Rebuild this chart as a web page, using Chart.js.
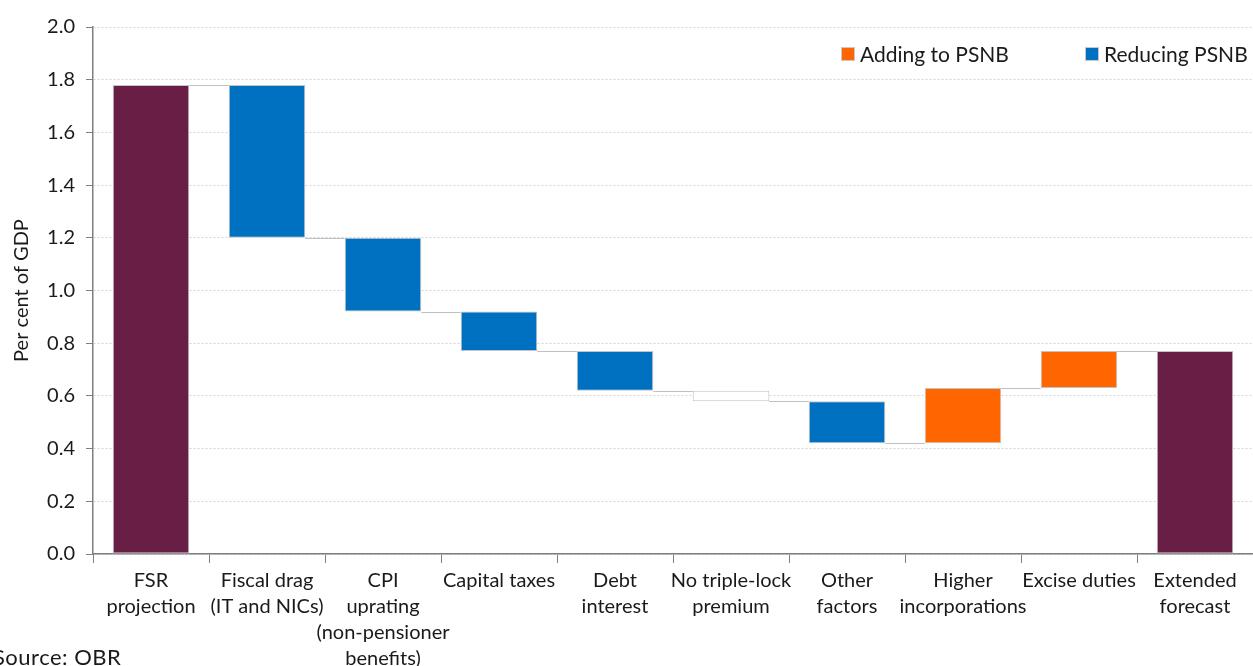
<!DOCTYPE html>
<html>
<head>
<meta charset="utf-8">
<script src="https://cdn.jsdelivr.net/npm/chart.js@4.4.1/dist/chart.umd.min.js"></script>
<style>
  body { margin: 0; background: #fff; font-family: Lato, "Open Sans", sans-serif; }
  #wrap { position: relative; width: 1253px; height: 666px; overflow: hidden; }
  #legend { position: absolute; left: 0; top: 41px; width: 1253px; font-size: 21px; color: #1a1a1a; white-space: nowrap; }
  #legend span.item { position: absolute; top: 0; display: inline-flex; align-items: center; }
  #legend i { display: inline-block; width: 14px; height: 14px; margin-right: 5px; border: 1px solid #c8c8c8; box-sizing: border-box; }
  #source { position: absolute; left: -7px; top: 643px; font-size: 22px; color: #1a1a1a; letter-spacing: 0.5px; }
</style>
</head>
<body>
<div id="wrap">
  <canvas id="chart" width="1253" height="666"></canvas>
  <div id="legend"></div>
  <div id="source">Source: OBR</div>
</div>
<script>
// Categories along the x axis (multi-line labels)
const categories = [
    ['FSR', 'projection'],
    ['Fiscal drag', '(IT and NICs)'],
    ['CPI', 'uprating', '(non-pensioner', 'benefits)'],
    ['Capital taxes'],
    ['Debt', 'interest'],
    ['No triple-lock', 'premium'],
    ['Other', 'factors'],
    ['Higher', 'incorporations'],
    ['Excise duties'],
    ['Extended', 'forecast']
];

// Floating bar bounds, per cent of GDP
const barStart = [0, 1.78, 1.20, 0.92, 0.77, 0.62, 0.58, 0.42, 0.63, 0];
const barEnd   = [1.78, 1.20, 0.92, 0.77, 0.62, 0.58, 0.42, 0.63, 0.77, 0.77];
// level where the connector from each bar to the next one sits
const connectorLevel = [1.78, 1.20, 0.92, 0.77, 0.62, 0.58, 0.42, 0.63, 0.77];
const barType  = ['total', 'reducing', 'reducing', 'reducing', 'reducing', 'neutral', 'reducing', 'adding', 'adding', 'total'];

const yTicks = [0, 0.2, 0.4, 0.6, 0.8, 1.0, 1.2, 1.4, 1.6, 1.8, 2.0];

const legendItems = [
    { label: 'Adding to PSNB', type: 'adding', left: 841 },
    { label: 'Reducing PSNB', type: 'reducing', left: 1085 }
];

const typeColors = {
    total: '#691f45',
    reducing: '#0070c0',
    adding: '#ff6600',
    neutral: '#ffffff'
};

const fontFamily = 'Lato, "Open Sans", sans-serif';
const textColor = '#1a1a1a';

// html legend, sits inside the plot area at top right
document.getElementById('legend').innerHTML = legendItems.map(item =>
    `<span class="item" style="left:${item.left}px"><i style="background:${typeColors[item.type]}"></i>${item.label}</span>`
).join('');

// draws the grey step lines linking each bar to the next
const connectorPlugin = {
    id: 'connectors',
    afterDatasetsDraw(chart) {
        const meta = chart.getDatasetMeta(0);
        const y = chart.scales.y;
        const ctx = chart.ctx;
        ctx.save();
        ctx.strokeStyle = '#c0c0c0';
        ctx.lineWidth = 1;
        connectorLevel.forEach((level, i) => {
            const a = meta.data[i];
            const b = meta.data[i + 1];
            if (!a || !b) return;
            const py = Math.round(y.getPixelForValue(level)) + 0.5;
            ctx.beginPath();
            ctx.moveTo(a.x + a.width / 2, py);
            ctx.lineTo(b.x - b.width / 2, py);
            ctx.stroke();
        });
        ctx.restore();
    }
};

new Chart(document.getElementById('chart'), {
    type: 'bar',
    data: {
        labels: categories,
        datasets: [{
            data: barStart.map((s, i) => [s, barEnd[i]]),
            backgroundColor: barType.map(t => typeColors[t]),
            borderColor: '#c4c4c4',
            borderWidth: 1,
            borderSkipped: false,
            barPercentage: 0.66,
            categoryPercentage: 1
        }]
    },
    options: {
        responsive: false,
        animation: false,
        layout: { padding: { top: 27, right: 0, left: 0, bottom: 0 } },
        plugins: {
            legend: { display: false },
            tooltip: { enabled: false }
        },
        scales: {
            x: {
                grid: {
                    display: true,
                    drawOnChartArea: false,
                    drawTicks: true,
                    tickLength: 9,
                    tickColor: '#7f7f7f',
                    offset: true
                },
                border: { display: true, color: '#7f7f7f', width: 1.5 },
                ticks: {
                    color: textColor,
                    font: { family: fontFamily, size: 20, lineHeight: 1.3 },
                    maxRotation: 0,
                    autoSkip: false,
                    padding: 5
                },
                afterFit: (scale) => { scale.height = 112; }
            },
            y: {
                min: 0,
                max: 2.0,
                afterBuildTicks: (scale) => { scale.ticks = yTicks.map(v => ({ value: v })); },
                grid: {
                    color: '#d4d4d4',
                    drawTicks: true,
                    tickLength: 7,
                    tickColor: '#7f7f7f',
                    tickBorderDash: []
                },
                border: { display: true, color: '#7f7f7f', width: 1.5, dash: [2, 2] },
                ticks: {
                    color: textColor,
                    font: { family: fontFamily, size: 20 },
                    padding: 11,
                    callback: (v) => Number(v).toFixed(1)
                },
                title: {
                    display: true,
                    text: 'Per cent of GDP',
                    color: textColor,
                    font: { family: fontFamily, size: 20 },
                    padding: { top: 10, bottom: 4 }
                },
                afterFit: (scale) => { scale.width = 93; }
            }
        }
    },
    plugins: [connectorPlugin]
});
</script>
</body>
</html>
